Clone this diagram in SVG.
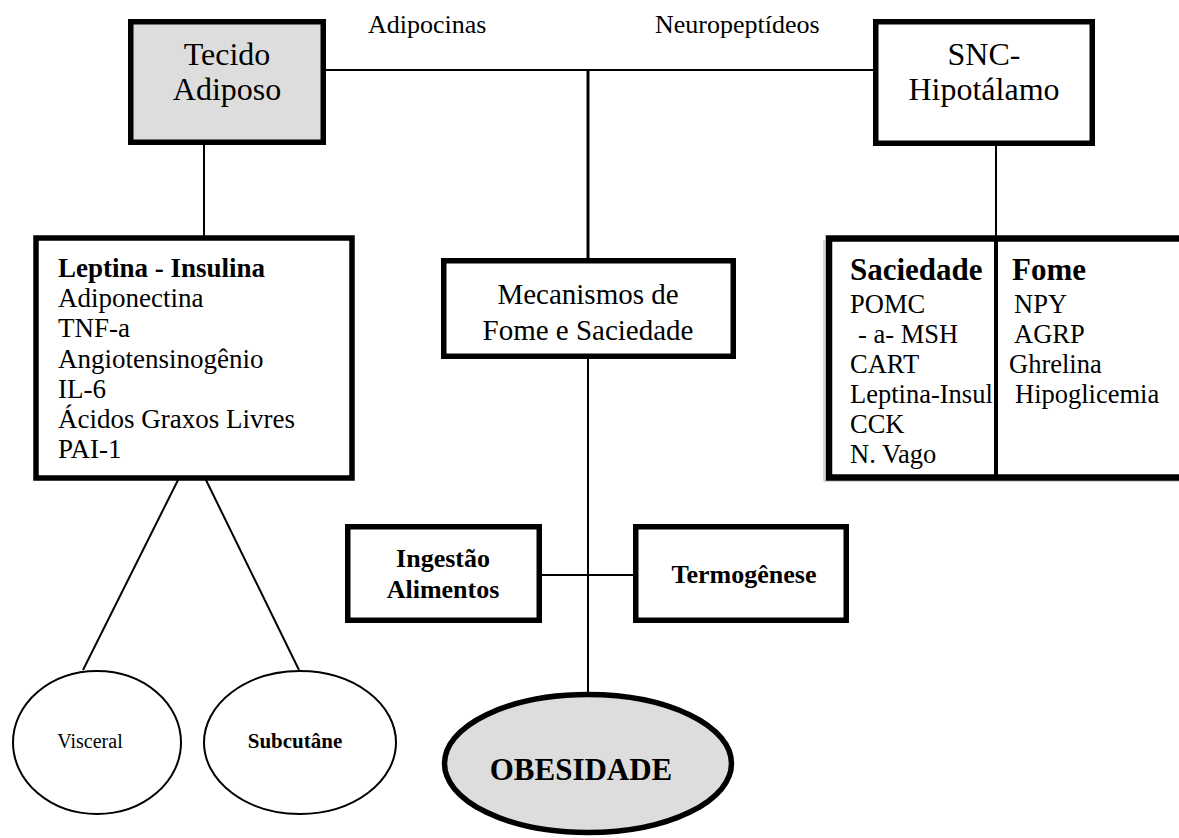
<svg xmlns="http://www.w3.org/2000/svg" width="1179" height="838" viewBox="0 0 1179 838">
<style>
text{font-family:"Liberation Serif","Times New Roman",serif;fill:#000}
.b{font-weight:bold}
.box{fill:#fff;stroke:#000;stroke-width:5.5}
.grey{fill:#dddddd}
.ln{stroke:#000;stroke-width:2;fill:none}
.ell{fill:#fff;stroke:#000;stroke-width:2}
</style>
<rect width="1179" height="838" fill="#fff"/>
<g id="connectors">
<line class="ln" x1="326" y1="70" x2="873" y2="70"/>
<line class="ln" x1="588" y1="70" x2="588" y2="258" style="stroke-width:3"/>
<line class="ln" x1="204" y1="145" x2="204" y2="236"/>
<line class="ln" x1="996" y1="146" x2="996" y2="236"/>
<line class="ln" x1="588" y1="359" x2="588" y2="692"/>
<line class="ln" x1="542" y1="575" x2="633" y2="575"/>
<line class="ln" x1="179" y1="478" x2="83" y2="670"/>
<line class="ln" x1="205" y1="478" x2="299" y2="670"/>
</g>
<g id="label-adipocinas"><text x="368" y="33" font-size="26">Adipocinas</text></g>
<g id="label-neuropeptideos"><text x="655" y="33" font-size="26">Neuropeptídeos</text></g>
<g id="tecido-adiposo">
<rect class="box grey" x="130.75" y="21.75" width="192.5" height="120.5"/>
<text x="227" y="65" font-size="32" text-anchor="middle">Tecido</text>
<text x="227" y="100" font-size="32" text-anchor="middle">Adiposo</text>
</g>
<g id="snc-hipotalamo">
<rect class="box" x="875.75" y="21.75" width="216.5" height="121.5"/>
<text x="984" y="65" font-size="32" text-anchor="middle">SNC-</text>
<text x="984" y="100" font-size="32" text-anchor="middle">Hipotálamo</text>
</g>
<g id="adipocinas-list">
<rect class="box" x="36" y="238" width="316" height="240"/>
<text x="58" y="277" font-size="27" class="b">Leptina - Insulina</text>
<text x="58" y="307" font-size="27">Adiponectina</text>
<text x="58" y="337" font-size="27">TNF-a</text>
<text x="58" y="368" font-size="27">Angiotensinogênio</text>
<text x="58" y="398" font-size="27">IL-6</text>
<text x="58" y="428" font-size="27">Ácidos Graxos Livres</text>
<text x="58" y="458" font-size="27">PAI-1</text>
</g>
<g id="mecanismos">
<rect class="box" x="443.75" y="260.75" width="289.5" height="95.5"/>
<text x="588" y="304" font-size="29" text-anchor="middle">Mecanismos de</text>
<text x="588" y="340" font-size="29" text-anchor="middle">Fome e Saciedade</text>
</g>
<g id="saciedade-fome">
<path d="M824 240 V481 H1179" fill="none" stroke="#b0b0b0" stroke-width="1"/>
<svg x="829" y="241" width="400" height="234" overflow="hidden">
<text x="21" y="39" font-size="31" class="b">Saciedade</text>
<text x="21" y="72" font-size="26.5">POMC</text>
<text x="29" y="102" font-size="26.5">- a- MSH</text>
<text x="21" y="132" font-size="26.5">CART</text>
<text x="21" y="162" font-size="26.5">Leptina-Insul</text>
<text x="21" y="192" font-size="26.5">CCK</text>
<text x="21" y="222" font-size="26.5">N. Vago</text>
<text x="183" y="39" font-size="31" class="b">Fome</text>
<text x="185" y="72" font-size="26.5">NPY</text>
<text x="185" y="102" font-size="26.5">AGRP</text>
<text x="180" y="132" font-size="26.5">Ghrelina</text>
<text x="186" y="162" font-size="26.5">Hipoglicemia</text>
</svg>
<rect x="829" y="238.5" width="400" height="239" fill="none" stroke="#000" stroke-width="6.5"/>
<line x1="996" y1="238" x2="996" y2="478" stroke="#000" stroke-width="4"/>
</g>
<g id="ingestao">
<rect class="box" x="347.75" y="526.75" width="191.5" height="93.5"/>
<text x="443" y="567" font-size="26" class="b" text-anchor="middle">Ingestão</text>
<text x="443" y="598" font-size="26" class="b" text-anchor="middle">Alimentos</text>
</g>
<g id="termogenese">
<rect class="box" x="635.75" y="526.75" width="210.5" height="93.5"/>
<text x="744" y="583" font-size="26" class="b" text-anchor="middle">Termogênese</text>
</g>
<g id="visceral">
<ellipse class="ell" cx="97" cy="742.5" rx="84" ry="71.5"/>
<text x="90" y="748" font-size="20" text-anchor="middle">Visceral</text>
</g>
<g id="subcutane">
<ellipse class="ell" cx="300" cy="742.5" rx="96" ry="71.5"/>
<text x="295" y="748" font-size="21" class="b" text-anchor="middle">Subcutâne</text>
</g>
<g id="obesidade">
<ellipse cx="588" cy="763.5" rx="143.5" ry="69" fill="#dddddd" stroke="#000" stroke-width="5.5"/>
<text x="581" y="780" font-size="31" class="b" text-anchor="middle">OBESIDADE</text>
</g>
</svg>
